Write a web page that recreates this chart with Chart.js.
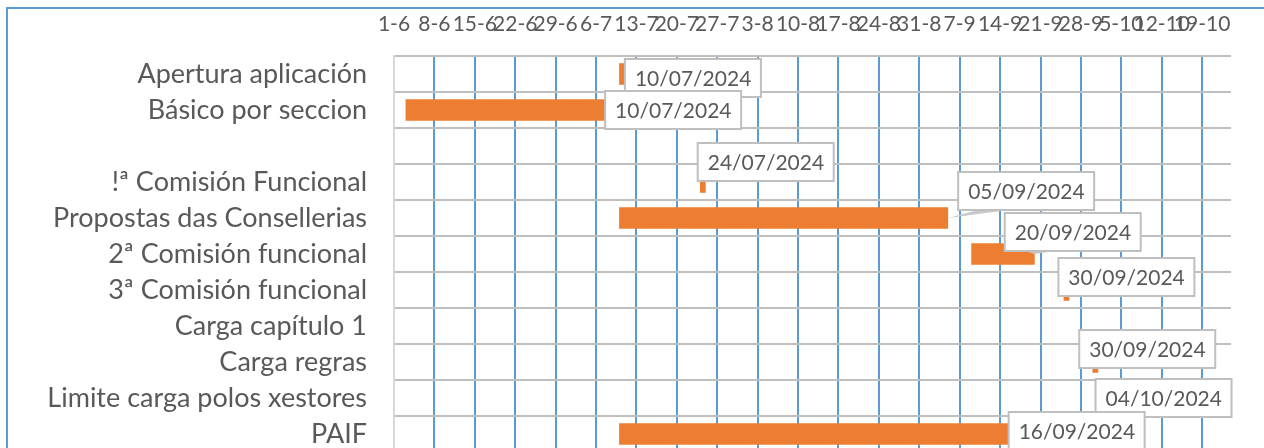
<!DOCTYPE html>
<html>
<head>
<meta charset="utf-8">
<script src="https://cdn.jsdelivr.net/npm/chart.js@4.4.1/dist/chart.umd.min.js"></script>
<style>
  html, body { margin: 0; padding: 0; background: #fff; overflow: hidden; }
  canvas { display: block; }
</style>
</head>
<body>
<canvas id="gantt" width="1264" height="460"></canvas>
<script>
  // tarefas do cronograma (de arriba a abaixo)
  const tarefas = [
    'Apertura aplicación',
    'Básico por seccion',
    '',
    '!ª Comisión Funcional',
    'Propostas das Consellerias',
    '2ª Comisión funcional',
    '3ª Comisión funcional',
    'Carga capítulo 1',
    'Carga regras',
    'Limite carga polos xestores',
    'PAIF'
  ];
  const inicios = ['2024-07-10', '2024-06-03', null, '2024-07-24', '2024-07-10', '2024-09-09', '2024-09-25', null, '2024-09-30', '2024-10-04', '2024-07-10'];
  const fins    = ['2024-07-11', '2024-07-10', null, '2024-07-25', '2024-09-05', '2024-09-20', '2024-09-26', null, '2024-10-01', '2024-10-04', '2024-09-16'];
  const etiquetas = ['10/07/2024', '10/07/2024', null, '24/07/2024', '05/09/2024', '20/09/2024', '30/09/2024', null, '30/09/2024', '04/10/2024', '16/09/2024'];

  // eixo de datas
  const dataInicioEixo = '2024-06-01';
  const dataFinEixo = '2024-10-24';
  const pasoDias = 7;

  // desprazamento das caixas respecto ao final da barra [dx, dy]
  const desprazamentos = [[0, -15], [-14, -19], null, [-8, -39], [10, -46], [-30, -41], [-11, -32], null, [-19, -32], [-20, -19], [-3, -22]];
  const comCunha = [false, false, false, true, true, true, false, false, false, false, false];

  const base = Date.UTC(2024, 5, 1);
  function dia(s) {
    const p = s.split('-').map(Number);
    return Math.round((Date.UTC(p[0], p[1] - 1, p[2]) - base) / 86400000);
  }
  function rotuloData(v) {
    const d = new Date(base + v * 86400000);
    return d.getUTCDate() + '-' + (d.getUTCMonth() + 1);
  }

  const barras = inicios.map((ini, i) => ini ? [dia(ini), dia(fins[i])] : null);

  const cor = '#595959';
  const marco = {
    id: 'marco',
    beforeDraw(chart) {
      const ctx = chart.ctx;
      ctx.save();
      ctx.strokeStyle = '#5B9BD5';
      ctx.lineWidth = 2;
      ctx.beginPath();
      ctx.moveTo(7, chart.height);
      ctx.lineTo(7, 8);
      ctx.lineTo(chart.width, 8);
      ctx.stroke();
      ctx.restore();
    }
  };

  const caixas = {
    id: 'caixas',
    afterDatasetsDraw(chart) {
      const ctx = chart.ctx;
      ctx.save();
      ctx.font = '21px Lato';
      etiquetas.forEach((txt, i) => {
        if (!txt) return;
        const xFin = chart.scales.x.getPixelForValue(dia(fins[i]));
        const yc = chart.scales.y.getPixelForValue(i);
        const [dx, dy] = desprazamentos[i];
        const w = Math.round(ctx.measureText(txt).width) + 20, h = 38;
        const bx = xFin + dx, by = yc + dy;
        if (comCunha[i]) {
          ctx.fillStyle = '#C8C8C8';
          ctx.beginPath();
          ctx.moveTo(xFin, yc);
          ctx.lineTo(bx + 20, by + h);
          ctx.lineTo(bx + 50, by + h);
          ctx.closePath();
          ctx.fill();
        }
        ctx.fillStyle = '#fff';
        ctx.fillRect(bx, by, w, h);
        ctx.strokeStyle = '#BFBFBF';
        ctx.lineWidth = 2;
        ctx.strokeRect(bx, by, w, h);
        ctx.fillStyle = cor;
        ctx.textAlign = 'left';
        ctx.textBaseline = 'middle';
        ctx.fillText(txt, bx + 10, by + h / 2 + 1);
      });
      ctx.restore();
    }
  };

  new Chart(document.getElementById('gantt').getContext('2d'), {
    type: 'bar',
    data: {
      labels: tarefas,
      datasets: [{
        data: barras,
        backgroundColor: '#ED7D31',
        borderWidth: 0,
        borderSkipped: false,
        barPercentage: 0.6,
        categoryPercentage: 1
      }]
    },
    options: {
      indexAxis: 'y',
      responsive: false,
      animation: false,
      layout: { padding: { left: 0, top: 0, right: 33, bottom: 8 } },
      plugins: {
        legend: { display: false },
        tooltip: { enabled: false }
      },
      scales: {
        x: {
          type: 'linear',
          position: 'top',
          min: dia(dataInicioEixo),
          max: dia(dataFinEixo),
          afterFit(scale) {
            scale.height = 56;
            scale.paddingLeft = 0;
            scale.paddingRight = 0;
          },
          border: { display: false },
          grid: {
            color: c => (c.tick && c.tick.value === 0) ? 'rgba(0,0,0,0)' : '#5B9BD5',
            lineWidth: 2,
            drawTicks: false
          },
          ticks: {
            stepSize: pasoDias,
            includeBounds: false,
            autoSkip: false,
            maxRotation: 0,
            minRotation: 0,
            padding: 19,
            color: cor,
            font: { family: 'Lato', size: 21 },
            callback: v => rotuloData(v)
          }
        },
        y: {
          afterFit(scale) {
            scale.width = 394;
            scale.paddingTop = 0;
            scale.paddingBottom = 0;
          },
          border: { color: '#D9D9D9', width: 2 },
          grid: { color: '#BFBFBF', lineWidth: 2, drawTicks: false, offset: true },
          ticks: {
            autoSkip: false,
            padding: 27,
            color: cor,
            font: { family: 'Lato', size: 27 }
          }
        }
      }
    },
    plugins: [marco, caixas]
  });
</script>
</body>
</html>
